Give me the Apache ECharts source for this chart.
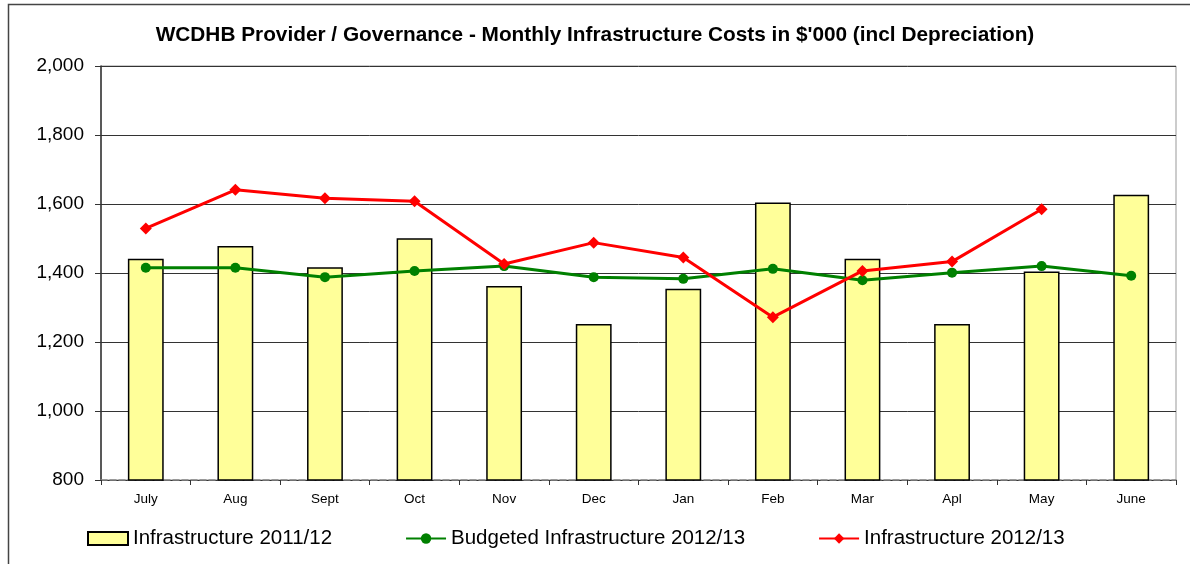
<!DOCTYPE html>
<html>
<head>
<meta charset="utf-8">
<script src="https://cdn.jsdelivr.net/npm/echarts@6/dist/echarts.min.js"></script>
<style>
html,body{margin:0;padding:0;background:#fff;}
#c{width:1190px;height:564px;}
</style>
</head>
<body>
<div id="c"></div>
<script>
var months = ['July','Aug','Sept','Oct','Nov','Dec','Jan','Feb','Mar','Apl','May','June'];
var infra1112 = [1441,1478,1417,1501,1362,1252,1354,1604,1441,1252,1404,1627];
var budget1213 = [1415,1415,1388,1406,1420,1388,1383,1412,1379,1401,1420,1392];
var infra1213 = [1529,1641,1617,1608,1426,1488,1445,1272,1406,1433,1585,null];
var yTicks = {min:800, max:2000, interval:200};

var chart = echarts.init(document.getElementById('c'), null, {renderer:'canvas'});
var font = 'Liberation Sans, Arial, sans-serif';
chart.setOption({
  animation:false,
  backgroundColor:'#fff',
  textStyle:{fontFamily:font},
  graphic:[{type:'rect', left:6, top:2, shape:{width:1200, height:600}, style:{fill:'none', stroke:'#444', lineWidth:1.5}, silent:true}],
  title:{text:"WCDHB Provider / Governance - Monthly Infrastructure Costs in $'000 (incl Depreciation)",
    left:'center', top:20, textStyle:{fontSize:20.8, fontWeight:'bold', color:'#000', fontFamily:font}},
  grid:{left:101, right:14, top:66, bottom:84, show:true, borderColor:'#999', borderWidth:1},
  legend:{left:82, top:523, itemWidth:40, itemHeight:13, itemGap:73,
    textStyle:{fontSize:20.5, color:'#000', fontFamily:font},
    data:[{name:'Infrastructure 2011/12', icon:'rect'},'Budgeted Infrastructure 2012/13','Infrastructure 2012/13']},
  xAxis:{type:'category', data:months,
    axisLine:{lineStyle:{color:'#888', type:'dashed', width:1.5}},
    axisTick:{show:true, length:5, lineStyle:{color:'#333'}},
    axisLabel:{fontSize:13.5, color:'#000', margin:12, fontFamily:font}},
  yAxis:{type:'value', min:yTicks.min, max:yTicks.max, interval:yTicks.interval,
    axisLine:{show:true, lineStyle:{color:'#333', width:1.5}},
    axisTick:{show:true, length:6, lineStyle:{color:'#333'}},
    axisLabel:{fontSize:19, color:'#000', margin:17, fontFamily:font,
      formatter:function(v){return v.toLocaleString('en-US');}},
    splitLine:{lineStyle:{color:'#333', width:1}}},
  series:[
    {name:'Infrastructure 2011/12', type:'bar', data:infra1112, barWidth:'40%',
      itemStyle:{color:'#FFFF99', borderColor:'#000', borderWidth:1.5}},
    {name:'Budgeted Infrastructure 2012/13', type:'line', data:budget1213,
      symbol:'circle', symbolSize:10, itemStyle:{color:'#008000'},
      lineStyle:{color:'#008000', width:3}},
    {name:'Infrastructure 2012/13', type:'line', data:infra1213,
      symbol:'diamond', symbolSize:12, itemStyle:{color:'#FF0000'},
      lineStyle:{color:'#FF0000', width:3}}
  ]
});
</script>
</body>
</html>
